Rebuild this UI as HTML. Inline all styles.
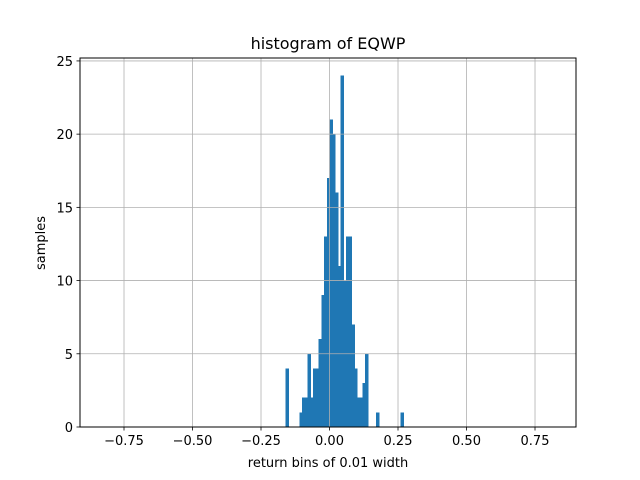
<!DOCTYPE html>
<html><head><meta charset="utf-8"><style>
body{margin:0;background:#fff}
svg{display:block;font-family:"DejaVu Sans","Liberation Sans",sans-serif}
</style></head><body>
<svg id="chart" width="640" height="480" xmlns="http://www.w3.org/2000/svg">
<rect width="640" height="480" fill="#fff"/>
<g id="bars" shape-rendering="crispEdges"></g>
<g id="grid"></g>
<rect x="80" y="58" width="496" height="369" fill="none" stroke="#000" stroke-width="1"/>
<g id="ticks" font-size="13" fill="#000"></g>
<text x="328" y="49" text-anchor="middle" font-size="16">histogram of EQWP</text>
<text x="328" y="467" text-anchor="middle" font-size="13">return bins of 0.01 width</text>
<text transform="translate(45,243) rotate(-90)" text-anchor="middle" font-size="13">samples</text>
</svg>
<script>
const binStarts = [-0.16,-0.11,-0.10,-0.09,-0.08,-0.07,-0.06,-0.05,-0.04,-0.03,-0.02,-0.01,0.00,0.01,0.02,0.03,0.04,0.05,0.06,0.07,0.08,0.09,0.10,0.11,0.12,0.13,0.17,0.26];
const counts = [4,1,2,2,5,2,4,4,6,9,13,17,21,20,16,11,24,10,13,13,7,4,2,2,3,5,1,1];
const binWidth = 0.01;
const xTicks = [-0.75,-0.5,-0.25,0,0.25,0.5,0.75];
const xTickLabels = ["−0.75","−0.50","−0.25","0.00","0.25","0.50","0.75"];
const yTicks = [0,5,10,15,20,25];
const X0=80,X1=576,Y0=427,Y1=58;
const xmin=-0.9106,xmax=0.8996,ymin=0,ymax=25.2;
const sx=v=>X0+(v-xmin)/(xmax-xmin)*(X1-X0);
const sy=v=>Y0-(v-ymin)/(ymax-ymin)*(Y0-Y1);
const NS="http://www.w3.org/2000/svg";
const bars=document.getElementById('bars'),grid=document.getElementById('grid'),ticks=document.getElementById('ticks');
function mk(t,a){const e=document.createElementNS(NS,t);for(const k in a)e.setAttribute(k,a[k]);return e;}
binStarts.forEach((b,i)=>{
  const x=sx(b),w=sx(b+binWidth)-x+0.6,y=sy(counts[i]);
  const r=mk('rect',{x:x,y:y,width:w,height:Y0-y,fill:'#1f77b4'});
  
  
  bars.appendChild(r);
});
xTicks.forEach((t,i)=>{
  const x=sx(t);
  const g=mk('line',{x1:x,x2:x,y1:Y1,y2:Y0,stroke:'#b0b0b0','stroke-width':0.8});
  
  
  grid.appendChild(g);
  const tk=mk('line',{x1:x,x2:x,y1:Y0,y2:Y0+3.5,stroke:'#000','stroke-width':0.8});
  
  
  ticks.appendChild(tk);
  const l=mk('text',{x:x,y:Y0+18,'text-anchor':'middle'});
  l.textContent=xTickLabels[i];
  
  
  ticks.appendChild(l);
});
yTicks.forEach(t=>{
  const y=sy(t);
  const g=mk('line',{x1:X0,x2:X1,y1:y,y2:y,stroke:'#b0b0b0','stroke-width':0.8});
  
  
  grid.appendChild(g);
  const tk=mk('line',{x1:X0-3.5,x2:X0,y1:y,y2:y,stroke:'#000','stroke-width':0.8});
  
  
  ticks.appendChild(tk);
  const l=mk('text',{x:X0-7,y:y+5,'text-anchor':'end'});
  l.textContent=String(t);
  
  
  ticks.appendChild(l);
});
</script>
</body></html>
